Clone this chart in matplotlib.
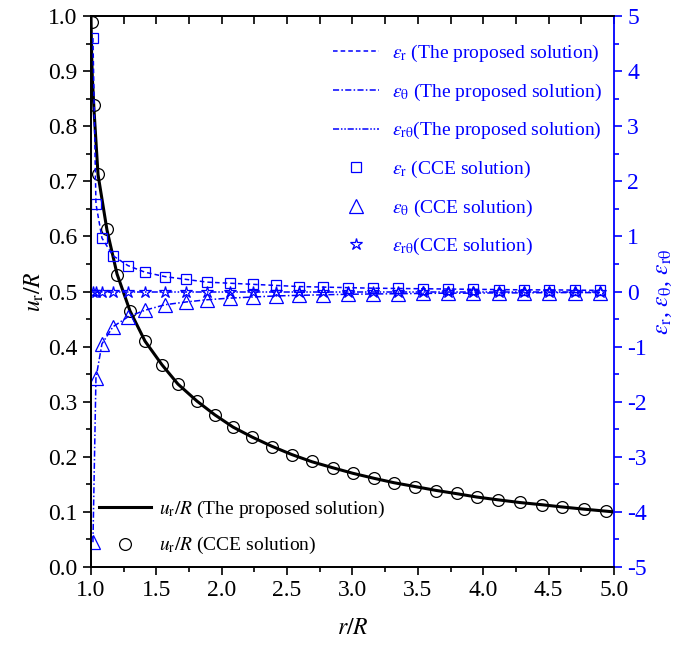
import matplotlib
matplotlib.use("Agg")
import matplotlib.pyplot as plt
from matplotlib.lines import Line2D
from matplotlib.ticker import MultipleLocator, FormatStrFormatter

plt.rcParams["font.family"] = ["Liberation Serif", "DejaVu Serif"]
plt.rcParams["mathtext.fontset"] = "stix"
plt.rcParams["axes.unicode_minus"] = False

BLUE = "#0000ff"

# displacement u_r/R (left axis)
r_u = [1.008, 1.023, 1.054, 1.122, 1.199, 1.298, 1.413, 1.543, 1.665, 1.811,
       1.948, 2.086, 2.231, 2.384, 2.537, 2.690, 2.851, 3.004, 3.164, 3.317,
       3.478, 3.639, 3.799, 3.950, 4.110, 4.281, 4.449, 4.602, 4.770, 4.939]
u_cce = [0.990, 0.838, 0.714, 0.613, 0.530, 0.465, 0.410, 0.367, 0.332, 0.301,
         0.276, 0.254, 0.236, 0.218, 0.203, 0.192, 0.180, 0.171, 0.161, 0.153,
         0.146, 0.138, 0.134, 0.127, 0.122, 0.118, 0.113, 0.109, 0.105, 0.102]
r_line = [1.000, 1.004, 1.010, 1.023, 1.054, 1.122, 1.199, 1.298, 1.413, 1.543,
          1.665, 1.811, 1.948, 2.086, 2.231, 2.384, 2.537, 2.690, 2.851, 3.004,
          3.164, 3.317, 3.478, 3.639, 3.799, 3.950, 4.110, 4.281, 4.449, 4.602,
          4.770, 5.000]
u_line = [1.000, 0.940, 0.890, 0.830, 0.712, 0.612, 0.532, 0.465, 0.410, 0.367,
          0.332, 0.301, 0.276, 0.254, 0.236, 0.219, 0.204, 0.191, 0.180, 0.170,
          0.161, 0.153, 0.146, 0.139, 0.133, 0.127, 0.122, 0.117, 0.113, 0.109,
          0.105, 0.100]

# strains (right axis)
r_e = [1.015, 1.038, 1.084, 1.168, 1.283, 1.413, 1.566, 1.727, 1.887, 2.063,
       2.239, 2.415, 2.591, 2.774, 2.966, 3.157, 3.348, 3.539, 3.730, 3.922,
       4.120, 4.312, 4.503, 4.702, 4.893]
eps_r = [4.60, 1.59, 0.97, 0.65, 0.47, 0.35, 0.27, 0.22, 0.17, 0.15,
         0.13, 0.11, 0.09, 0.08, 0.07, 0.06, 0.055, 0.05, 0.045, 0.04,
         0.035, 0.03, 0.03, 0.025, 0.02]
eps_t = [-4.55, -1.57, -0.95, -0.64, -0.46, -0.34, -0.24, -0.19, -0.15, -0.12,
         -0.10, -0.08, -0.07, -0.06, -0.05, -0.045, -0.04, -0.035, -0.03, -0.03,
         -0.025, -0.025, -0.02, -0.02, -0.02]
eps_rt = [0.0, 0.0, 0.0, 0.0, 0.0, 0.0, 0.0, 0.0, 0.0, 0.0,
          0.0, 0.0, 0.0, 0.0, 0.0, 0.0, 0.0, 0.0, 0.0, 0.0,
          0.0, 0.0, 0.0, 0.0, 0.0]

LS_R = (0, (3, 2))
LS_T = (0, (4, 1.5, 1, 1.5))
LS_RT = (0, (4, 1.2, 1, 1.2, 1, 1.2))

fig = plt.figure(figsize=(6.82, 6.48), dpi=100)
ax = fig.add_axes([0.1334, 0.125, 0.7669, 0.8503])
ax2 = ax.twinx()

# left axis: displacement
ax.plot(r_line, u_line, color="black", lw=2.2, zorder=3)
ax.plot(r_u, u_cce, ls="none", marker="o", ms=8.5, mfc="none", mec="black",
        mew=0.9, zorder=4)

# right axis: strains
ax2.plot(r_e, eps_r, color=BLUE, lw=1.1, ls=LS_R)
ax2.plot(r_e, eps_t, color=BLUE, lw=1.1, ls=LS_T)
ax2.plot(r_e, eps_rt, color=BLUE, lw=1.1, ls=LS_RT)
ax2.plot(r_e, eps_r, ls="none", marker="s", ms=7, mfc="none", mec=BLUE, mew=0.9)
ax2.plot(r_e, eps_t, ls="none", marker="^", ms=9.5, mfc="none", mec=BLUE, mew=0.9)
ax2.plot(r_e, eps_rt, ls="none", marker="*", ms=9, mfc="none", mec=BLUE, mew=0.9)

ax.set_xlim(1, 5)
ax.set_ylim(0, 1)
ax2.set_ylim(-5, 5)

ax.xaxis.set_major_locator(MultipleLocator(0.5))
ax.xaxis.set_minor_locator(MultipleLocator(0.25))
ax.yaxis.set_major_locator(MultipleLocator(0.1))
ax.yaxis.set_minor_locator(MultipleLocator(0.05))
ax2.yaxis.set_major_locator(MultipleLocator(1))
ax2.yaxis.set_minor_locator(MultipleLocator(0.5))

ax.tick_params(axis="both", which="major", direction="out", length=6, width=1.2,
               labelsize=17, top=True)
ax.tick_params(axis="both", which="minor", direction="out", length=3.5, width=1.2, top=True)
ax2.tick_params(axis="y", which="major", direction="out", length=6, width=1.2,
                labelsize=17, colors=BLUE)
ax2.tick_params(axis="y", which="minor", direction="out", length=3.5, width=1.2,
                colors=BLUE)
ax.yaxis.set_major_formatter(FormatStrFormatter("%.1f"))
ax.xaxis.set_major_formatter(FormatStrFormatter("%.1f"))

# top ticks point inward
for t in ax.xaxis.get_major_ticks() + ax.xaxis.get_minor_ticks():
    t.tick2line.set_marker(3)
    t.tick2line.set_markersize(6)

for sp in ("left", "bottom", "top"):
    ax.spines[sp].set_linewidth(1.3)
    ax2.spines[sp].set_linewidth(1.3)
ax2.spines["right"].set_color(BLUE)
ax2.spines["right"].set_linewidth(1.3)
ax.spines["right"].set_visible(False)

ax.set_xlabel(r"$r/R$", fontsize=17, labelpad=12)
ax.set_ylabel(r"$u_{\rm r}/R$", fontsize=17, labelpad=2)
ax2.set_ylabel(r"$\varepsilon_{\rm r}$, $\varepsilon_{\mathrm{\theta}}$, $\varepsilon_{\mathrm{r\theta}}$",
               fontsize=17, color=BLUE, rotation=90, labelpad=4)

# legends
h_blue = [
    Line2D([], [], color=BLUE, lw=1.1, ls=LS_R),
    Line2D([], [], color=BLUE, lw=1.1, ls=LS_T),
    Line2D([], [], color=BLUE, lw=1.1, ls=LS_RT),
    Line2D([], [], ls="none", marker="s", ms=7, mfc="none", mec=BLUE, mew=0.9),
    Line2D([], [], ls="none", marker="^", ms=9.5, mfc="none", mec=BLUE, mew=0.9),
    Line2D([], [], ls="none", marker="*", ms=9, mfc="none", mec=BLUE, mew=0.9),
]
l_blue = [
    r"$\varepsilon_{\rm r}$ (The proposed solution)",
    r"$\varepsilon_{\mathrm{\theta}}$ (The proposed solution)",
    r"$\varepsilon_{\mathrm{r\theta}}$(The proposed solution)",
    r"$\varepsilon_{\rm r}$ (CCE solution)",
    r"$\varepsilon_{\mathrm{\theta}}$ (CCE solution)",
    r"$\varepsilon_{\mathrm{r\theta}}$(CCE solution)",
]
leg1 = ax2.legend(h_blue, l_blue, loc="upper left", bbox_to_anchor=(0.447, 0.965),
                  frameon=False, fontsize=14, handlelength=2.4, handletextpad=0.65,
                  labelspacing=0.9, labelcolor=BLUE, borderaxespad=0)

h_black = [
    Line2D([], [], color="black", lw=2.2),
    Line2D([], [], ls="none", marker="o", ms=8.5, mfc="none", mec="black", mew=0.9),
]
l_black = [r"$u_{\rm r}/R$ (The proposed solution)", r"$u_{\rm r}/R$ (CCE solution)"]
leg2 = ax2.legend(h_black, l_black, loc="lower left", bbox_to_anchor=(0.0, 0.005),
                  frameon=False, fontsize=14, handlelength=2.7, handletextpad=0.4,
                  labelspacing=0.8, borderaxespad=0)
ax2.add_artist(leg1)

fig.savefig("out.png", dpi=100)
